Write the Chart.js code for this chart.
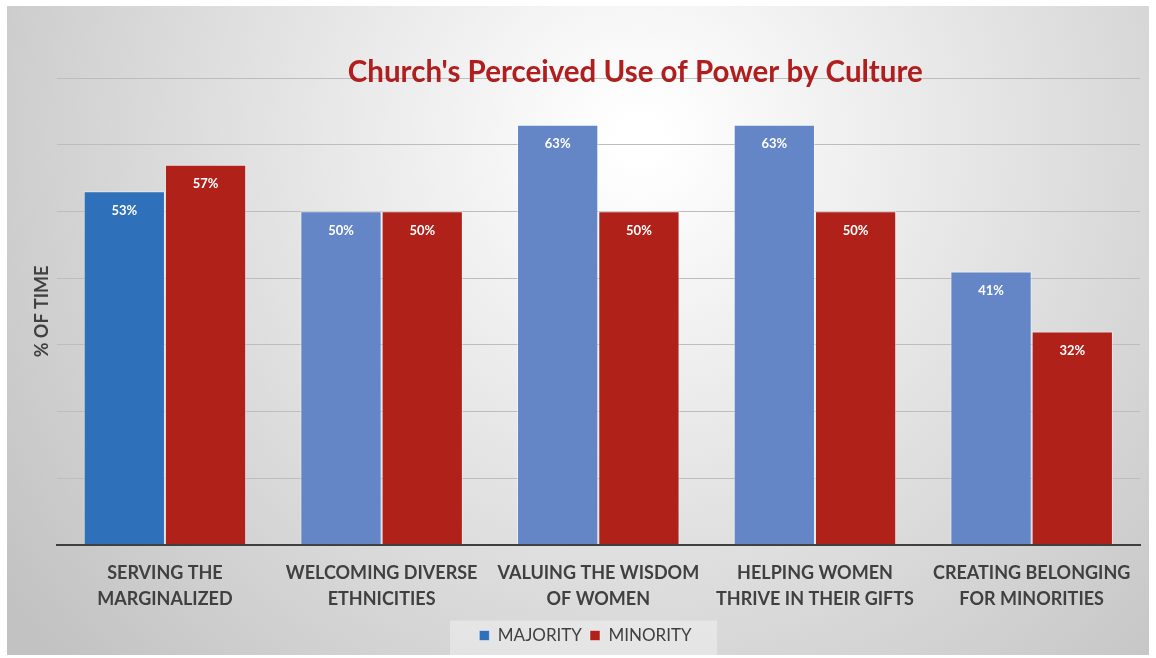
<!DOCTYPE html>
<html>
<head>
<meta charset="utf-8">
<script src="https://cdn.jsdelivr.net/npm/chart.js@4.4.0/dist/chart.umd.min.js"></script>
<style>
    html, body { margin: 0; padding: 0; background: #fff; }
    #contenedor { width: 1156px; height: 658px; }
</style>
</head>
<body>
<div id="contenedor"><canvas id="myChart"></canvas></div>
<script>
// datos del grafico
var categorias = [
    ['SERVING THE', 'MARGINALIZED'],
    ['WELCOMING DIVERSE', 'ETHNICITIES'],
    ['VALUING THE WISDOM', 'OF WOMEN'],
    ['HELPING WOMEN', 'THRIVE IN THEIR GIFTS'],
    ['CREATING BELONGING', 'FOR MINORITIES']
];
var valoresMayoria = [53, 50, 63, 63, 41];
var valoresMinoria = [57, 50, 50, 50, 32];
var escalaY = [0, 70, 10]; // min, max, paso

var fuente = 'Lato, "Open Sans", sans-serif';

// la primera barra azul es mas oscura
var coloresMayoria = valoresMayoria.map(function (v, i) {
    return i === 0 ? 'rgb(46,112,185)' : 'rgb(100,134,199)';
});

// fondo degradado gris
var fondo = {
    id: 'fondo',
    beforeDraw: function (chart) {
        var c = chart.ctx;
        c.save();
        c.fillStyle = '#ffffff';
        c.fillRect(0, 0, chart.width, chart.height);
        var g = c.createRadialGradient(640, 140, 20, 640, 140, 780);
        g.addColorStop(0, '#ffffff');
        g.addColorStop(1, '#c2c2c2');
        c.fillStyle = g;
        c.fillRect(7, 6, chart.width - 14, chart.height - 9);
        // caja de la leyenda
        var l = chart.legend;
        var cy = l.top + l.height / 2;
        c.fillStyle = 'rgba(255,255,255,0.35)';
        c.fillRect(l.left + (l.width - 267) / 2 - 2, cy - 16, 267, 36);
        c.restore();
    },
    afterDraw: function (chart) {
        // titulo (cruza la linea superior)
        var c = chart.ctx;
        var a = chart.chartArea;
        c.save();
        c.font = 'bold 29.5px ' + fuente;
        c.fillStyle = 'rgb(176,30,30)';
        c.textAlign = 'center';
        c.textBaseline = 'middle';
        c.fillText("Church's Perceived Use of Power by Culture", (a.left + a.right) / 2 + 37, 72);
        c.restore();
    }
};

// etiquetas de porcentaje dentro de las barras
var etiquetas = {
    id: 'etiquetas',
    afterDatasetsDraw: function (chart) {
        var c = chart.ctx;
        c.save();
        c.font = 'bold 13px ' + fuente;
        c.fillStyle = '#ffffff';
        c.textAlign = 'center';
        c.textBaseline = 'middle';
        chart.data.datasets.forEach(function (ds, i) {
            chart.getDatasetMeta(i).data.forEach(function (bar, j) {
                c.fillText(ds.data[j] + '%', bar.x, bar.y + 19);
            });
        });
        c.restore();
    }
};

var ctx = document.getElementById('myChart').getContext('2d');
new Chart(ctx, {
    type: 'bar',
    data: {
        labels: categorias,
        datasets: [{
                label: 'MAJORITY',
                data: valoresMayoria,
                backgroundColor: coloresMayoria,
                borderColor: 'rgba(255,255,255,0.45)',
                borderWidth: 1
            }, {
                label: 'MINORITY',
                data: valoresMinoria,
                backgroundColor: 'rgb(176,33,26)',
                borderColor: 'rgba(255,255,255,0.45)',
                borderWidth: 1
            }]
    },
    options: {
        responsive: true,
        maintainAspectRatio: false,
        animation: false,
        layout: {
            padding: {left: 31, right: 16, top: 78, bottom: 4}
        },
        datasets: {
            bar: {
                categoryPercentage: 0.75,
                barPercentage: 1
            }
        },
        scales: {
            x: {
                grid: {display: false},
                border: {color: '#3f3f3f', width: 2},
                ticks: {
                    color: '#404040',
                    font: {family: fuente, size: 18, weight: 'bold', lineHeight: 1.45},
                    padding: 7,
                    maxRotation: 0,
                    autoSkip: false
                }
            },
            y: {
                min: escalaY[0],
                max: escalaY[1],
                ticks: {stepSize: escalaY[2], display: false},
                grid: {color: '#bdbdbd', drawTicks: false},
                border: {display: false},
                title: {
                    display: true,
                    text: '% OF TIME',
                    color: '#404040',
                    font: {family: fuente, size: 18, weight: 'bold'},
                    padding: {top: 0, bottom: 4}
                }
            }
        },
        plugins: {
            legend: {
                position: 'bottom',
                labels: {
                    color: '#404040',
                    font: {family: fuente, size: 17},
                    boxWidth: 10,
                    boxHeight: 10,
                    padding: 8
                }
            },
            tooltip: {enabled: false}
        }
    },
    plugins: [fondo, etiquetas]
});
</script>
</body>
</html>
